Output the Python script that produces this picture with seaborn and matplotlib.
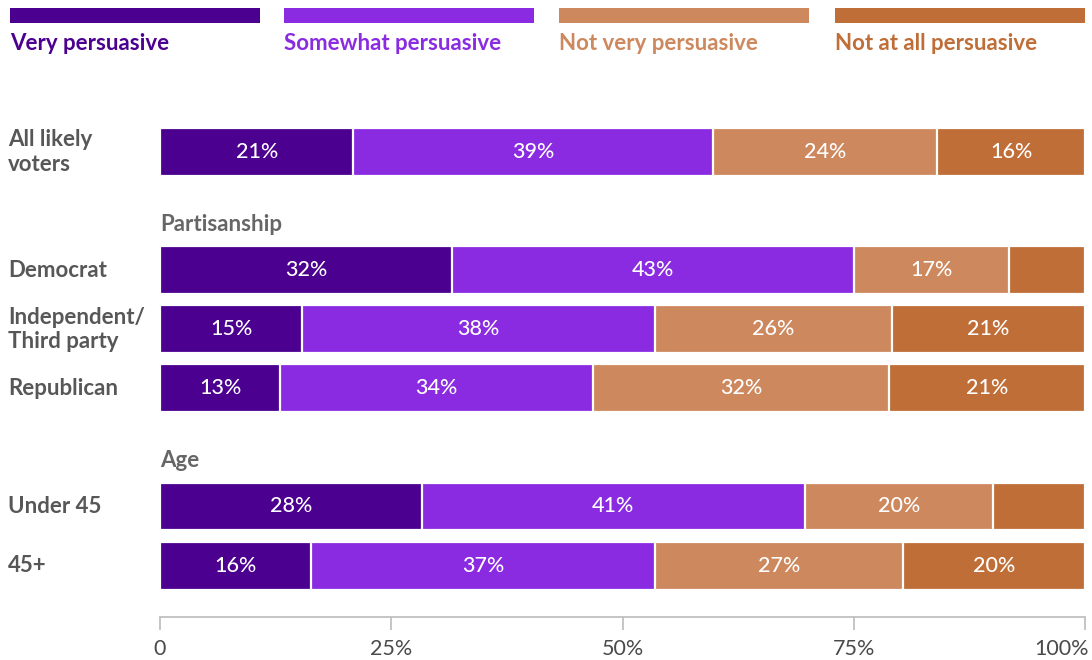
import numpy as np
import pandas as pd
import matplotlib
matplotlib.use('Agg')
import matplotlib.pyplot as plt
import matplotlib.transforms as mtransforms
import seaborn as sns
from matplotlib.patches import Rectangle

sns.set_theme(style='white')
plt.rcParams['font.family'] = ['Lato', 'DejaVu Sans']

# --- data ---
groups = ['All likely\nvoters', 'Democrat', 'Independent/\nThird party', 'Republican', 'Under 45', '45+']
responses = ['Very persuasive', 'Somewhat persuasive', 'Not very persuasive', 'Not at all persuasive']
very = [20.9, 31.6, 15.4, 13.0, 28.3, 16.3]
somewhat = [38.9, 43.4, 38.1, 33.8, 41.4, 37.2]
not_very = [24.2, 16.8, 25.6, 32.0, 20.4, 26.8]
not_at_all = [16.0, 8.2, 20.9, 21.2, 9.9, 19.7]
colors = ['#4b0090', '#8a2be2', '#cd885e', '#c06e38']

# row order with header slots
order = ['All likely\nvoters', 'Partisanship', 'Democrat', 'Independent/\nThird party', 'Republican',
         'Age', 'Under 45', '45+']
headers = ['Partisanship', 'Age']

df = pd.DataFrame({'group': groups, responses[0]: very, responses[1]: somewhat,
                   responses[2]: not_very, responses[3]: not_at_all})
cum = df[responses].cumsum(axis=1)

fig = plt.figure(figsize=(10.92, 6.6), dpi=100)
ax = fig.add_axes([160 / 1092, 43 / 660, 925 / 1092, 500.5 / 660])

# stacked bars: draw from the full total down
for i in range(len(responses) - 1, -1, -1):
    sns.barplot(x=cum[responses[i]], y=df['group'], order=order, color=colors[i],
                orient='h', width=0.81, edgecolor='white', linewidth=1.6,
                saturation=1, ax=ax)

# value labels
for _, row in df.iterrows():
    ypos = order.index(row['group'])
    left = 0
    for r in responses:
        v = row[r]
        if v >= 11:
            ax.text(left + v / 2, ypos, f'{round(v)}%', ha='center', va='center',
                    color='white', fontsize=15.5, fontweight='medium')
        left += v

ax.set_xlim(0, 100)
ax.set_ylim(7.87, -0.6)
ax.set_ylabel('')
ax.set_xlabel('')
ax.set_yticks([])
ax.set_xticks([0, 25, 50, 75, 100])
ax.set_xticklabels(['0', '25%', '50%', '75%', '100%'])
ax.tick_params(axis='x', length=9, width=1.2, color='#bbbbbb', labelcolor='#4a4a4a',
               labelsize=15.5, pad=7, bottom=True)
last = ax.get_xticklabels()[-1]
last.set_horizontalalignment('right')
last.set_transform(last.get_transform() + mtransforms.ScaledTranslation(4 / 100, 0, fig.dpi_scale_trans))
for s in ['top', 'right', 'left']:
    ax.spines[s].set_visible(False)
ax.spines['bottom'].set_color('#bbbbbb')
ax.spines['bottom'].set_linewidth(1.2)

# row labels
for g in groups:
    ax.text(-152 / 925 * 100, order.index(g), g, ha='left', va='center', color='#575757',
            fontsize=16, fontweight='bold', linespacing=1.2, clip_on=False)
for h in headers:
    ax.text(0, order.index(h) + 0.22, h, ha='left', va='center', color='#666666',
            fontsize=16, fontweight='bold')

# legend across the top
lx = [10, 284, 559, 835]
for x0, c, lab in zip(lx, colors, responses):
    fig.add_artist(Rectangle((x0 / 1092, 1 - 23 / 660), 250 / 1092, 15 / 660,
                             transform=fig.transFigure, color=c, lw=0))
    fig.text(x0 / 1092, 1 - 43 / 660, lab, ha='left', va='center', color=c,
             fontsize=16, fontweight='bold')

fig.savefig('out.png', dpi=100)
